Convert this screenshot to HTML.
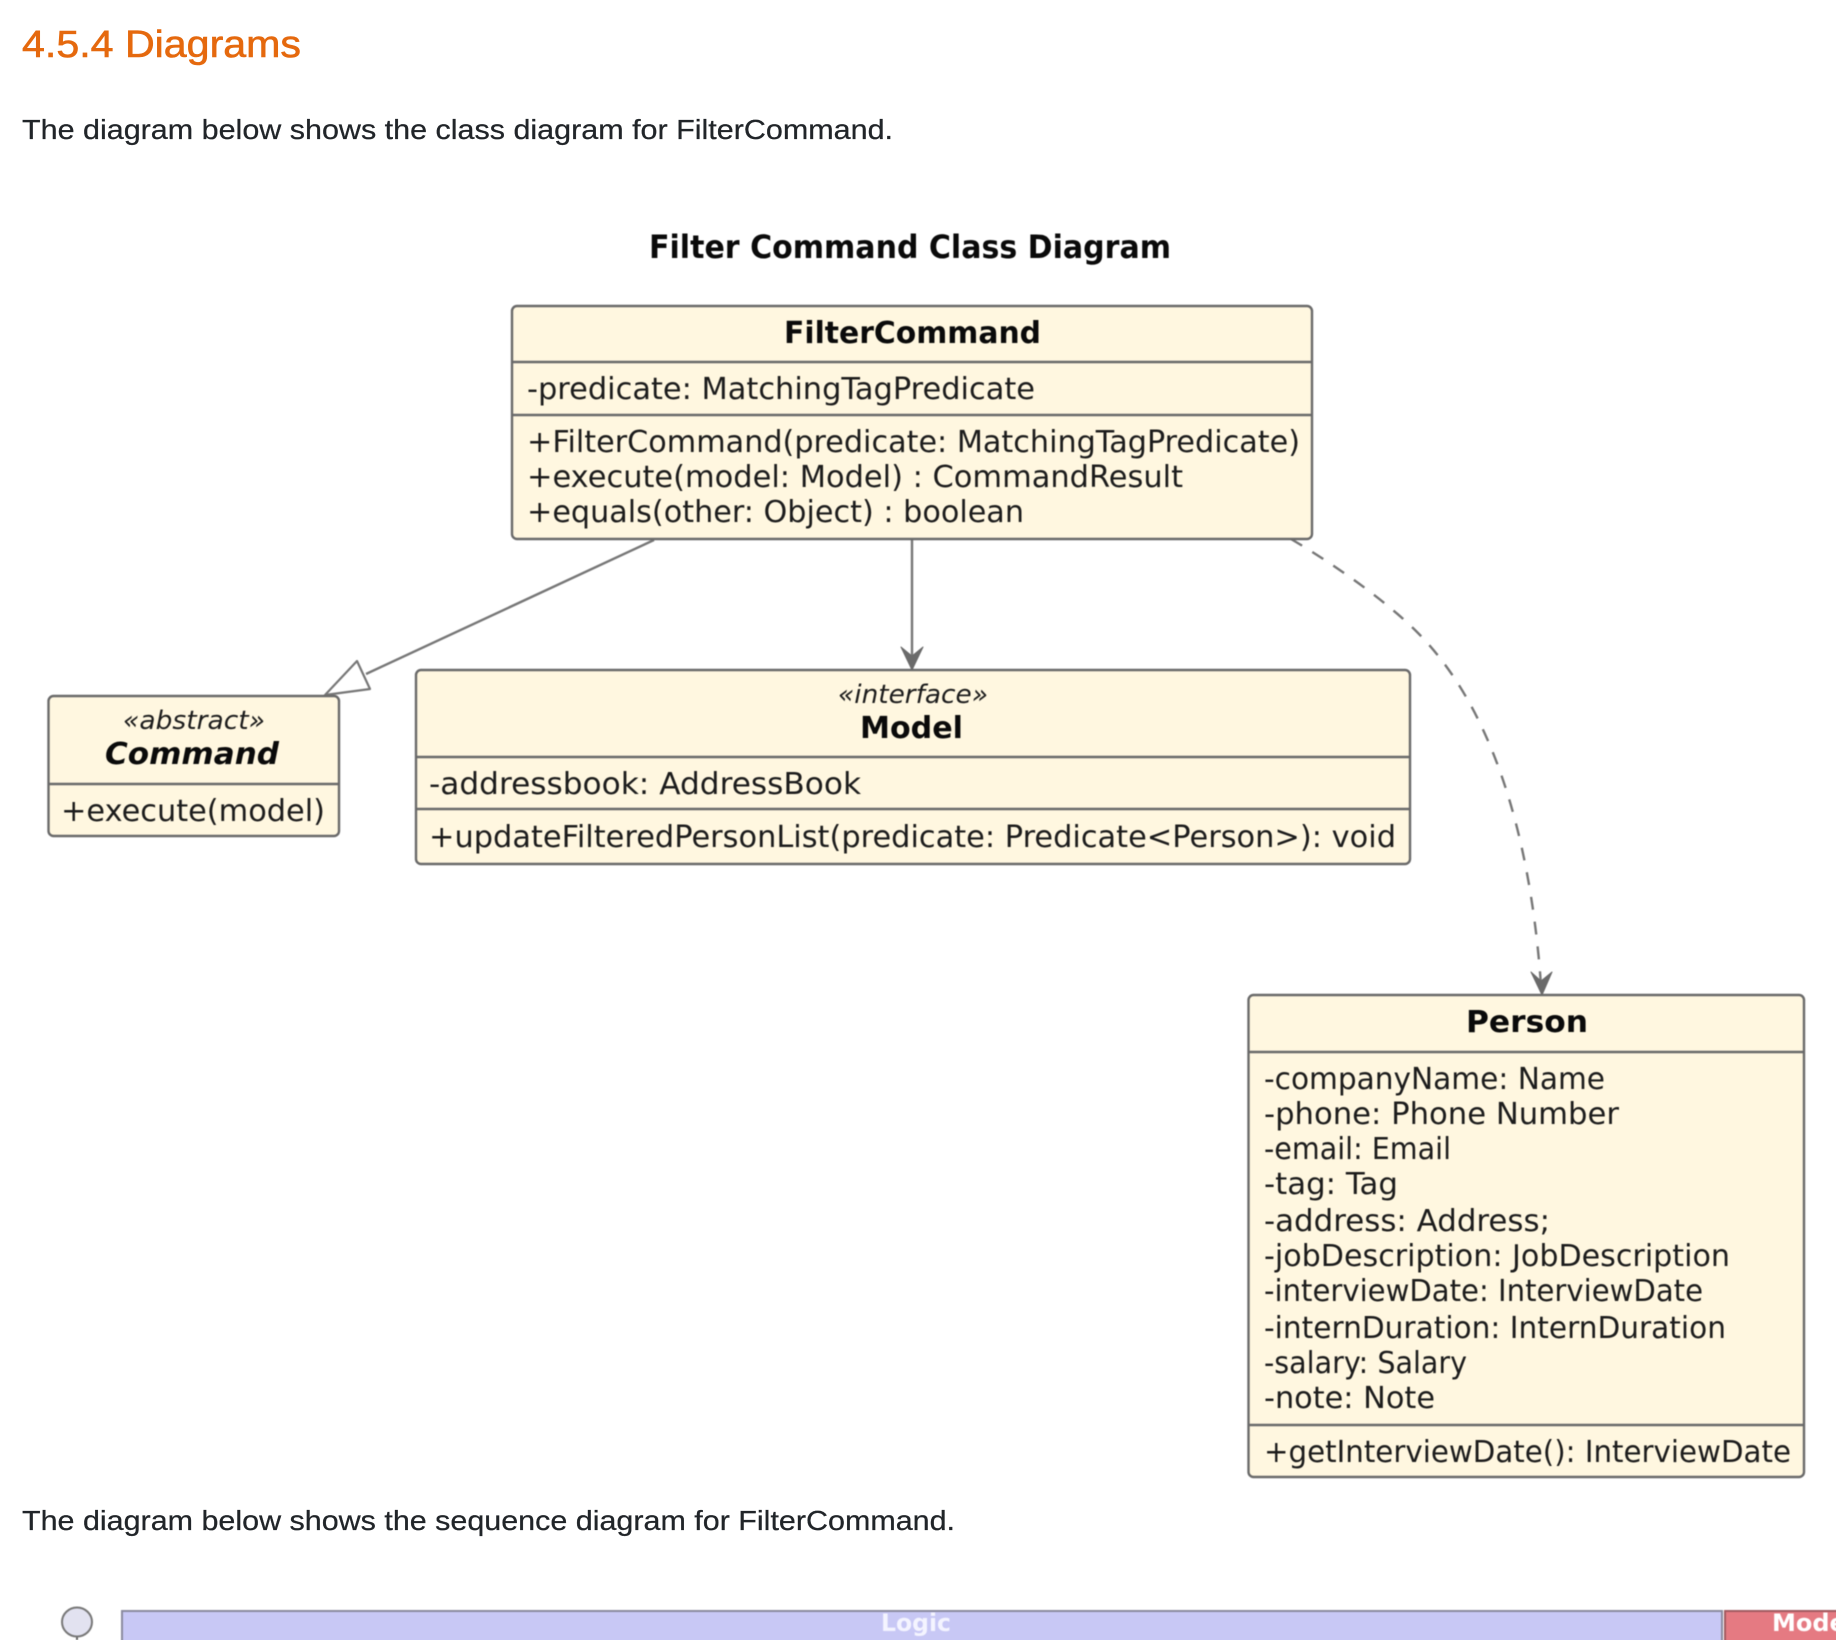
<!DOCTYPE html>
<html>
<head>
<meta charset="utf-8">
<title>4.5.4 Diagrams</title>
<style>
html,body{margin:0;padding:0;background:#fff;width:1836px;height:1640px;overflow:hidden}
svg{display:block}
text{font-family:"DejaVu Sans",sans-serif;fill:#1c1c1c;font-size:30px}
.b{font-weight:bold;fill:#0a0a0a}
.i{font-style:italic}
.page{font-family:"Liberation Sans",sans-serif;font-size:28px;fill:#212529}
.box{fill:#FFF7E0;stroke:#6a6a6a;stroke-width:2.4}
.d{stroke:#6a6a6a;stroke-width:2.4}
.e{stroke:#777;stroke-width:2.4;fill:none}
.soft{filter:blur(.45px)}
</style>
</head>
<body>
<svg width="1836" height="1640" viewBox="0 0 1836 1640" xmlns="http://www.w3.org/2000/svg">
<text x="22" y="57" class="page" style="font-size:38px;fill:#E5690E;stroke:#E5690E;stroke-width:.6" textLength="279" lengthAdjust="spacingAndGlyphs">4.5.4 Diagrams</text>
<text x="22" y="139" class="page" style="stroke:#212529;stroke-width:.25" textLength="871" lengthAdjust="spacingAndGlyphs">The diagram below shows the class diagram for FilterCommand.</text>
<g class="soft">
<text x="649" y="258" class="b" style="font-size:32px" textLength="522" lengthAdjust="spacingAndGlyphs">Filter Command Class Diagram</text>

<!-- connectors -->
<path class="e" d="M654,540 L366,674"/>
<path d="M325,695 L357,661 L370,689 Z" fill="#fff" stroke="#777" stroke-width="2.2" stroke-linejoin="round"/>
<path class="e" d="M912,539 L912,660"/>
<path d="M912,670 L901,647 L912,656 L923,647 Z" fill="#6a6a6a" stroke="#6a6a6a" stroke-width="1" stroke-linejoin="round"/>
<path class="e" stroke-dasharray="13,12" d="M1291,539 C1335,565 1385,600 1417,632 C1490,705 1530,830 1541,985"/>
<path d="M1542,995 L1531,972 L1541,981 L1552,972 Z" fill="#6a6a6a" stroke="#6a6a6a" stroke-width="1" stroke-linejoin="round"/>

<!-- FilterCommand -->
<rect class="box" x="512" y="306" width="800" height="233" rx="5"/>
<line class="d" x1="512" y1="362" x2="1312" y2="362"/>
<line class="d" x1="512" y1="415" x2="1312" y2="415"/>
<text x="784" y="343" class="b" textLength="257" lengthAdjust="spacingAndGlyphs">FilterCommand</text>
<text x="527" y="399" textLength="508" lengthAdjust="spacingAndGlyphs">-predicate: MatchingTagPredicate</text>
<text x="527" y="452" textLength="773" lengthAdjust="spacingAndGlyphs">+FilterCommand(predicate: MatchingTagPredicate)</text>
<text x="527" y="487" textLength="656" lengthAdjust="spacingAndGlyphs">+execute(model: Model) : CommandResult</text>
<text x="527" y="522" textLength="497" lengthAdjust="spacingAndGlyphs">+equals(other: Object) : boolean</text>

<!-- Command -->
<rect class="box" x="48.500" y="696" width="290.500" height="140" rx="5"/>
<line class="d" x1="49" y1="784" x2="339" y2="784"/>
<text x="123" y="729" class="i" style="font-size:26px" textLength="142" lengthAdjust="spacingAndGlyphs">«abstract»</text>
<text x="105" y="764" class="b i" textLength="174" lengthAdjust="spacingAndGlyphs">Command</text>
<text x="61" y="821" textLength="264" lengthAdjust="spacingAndGlyphs">+execute(model)</text>

<!-- Model -->
<rect class="box" x="416" y="670" width="994" height="194" rx="5"/>
<line class="d" x1="416" y1="757" x2="1410" y2="757"/>
<line class="d" x1="416" y1="809" x2="1410" y2="809"/>
<text x="838" y="703" class="i" style="font-size:26px" textLength="150" lengthAdjust="spacingAndGlyphs">«interface»</text>
<text x="860" y="738" class="b" textLength="103" lengthAdjust="spacingAndGlyphs">Model</text>
<text x="429" y="794" textLength="432" lengthAdjust="spacingAndGlyphs">-addressbook: AddressBook</text>
<text x="429" y="847" textLength="967" lengthAdjust="spacingAndGlyphs">+updateFilteredPersonList(predicate: Predicate&lt;Person&gt;): void</text>

<!-- Person -->
<rect class="box" x="1248.500" y="995" width="555.500" height="482" rx="5"/>
<line class="d" x1="1249" y1="1052" x2="1804" y2="1052"/>
<line class="d" x1="1249" y1="1425" x2="1804" y2="1425"/>
<text x="1466" y="1032" class="b" textLength="122" lengthAdjust="spacingAndGlyphs">Person</text>
<text x="1264" y="1089" textLength="341" lengthAdjust="spacingAndGlyphs">-companyName: Name</text>
<text x="1264" y="1124" textLength="355" lengthAdjust="spacingAndGlyphs">-phone: Phone Number</text>
<text x="1264" y="1159" textLength="187" lengthAdjust="spacingAndGlyphs">-email: Email</text>
<text x="1264" y="1194" textLength="134" lengthAdjust="spacingAndGlyphs">-tag: Tag</text>
<text x="1264" y="1231" textLength="286" lengthAdjust="spacingAndGlyphs">-address: Address;</text>
<text x="1264" y="1266" textLength="466" lengthAdjust="spacingAndGlyphs">-jobDescription: JobDescription</text>
<text x="1264" y="1301" textLength="439" lengthAdjust="spacingAndGlyphs">-interviewDate: InterviewDate</text>
<text x="1264" y="1338" textLength="462" lengthAdjust="spacingAndGlyphs">-internDuration: InternDuration</text>
<text x="1264" y="1373" textLength="203" lengthAdjust="spacingAndGlyphs">-salary: Salary</text>
<text x="1264" y="1408" textLength="171" lengthAdjust="spacingAndGlyphs">-note: Note</text>
<text x="1264" y="1462" textLength="527" lengthAdjust="spacingAndGlyphs">+getInterviewDate(): InterviewDate</text>
</g>

<text x="22" y="1530" class="page" style="stroke:#212529;stroke-width:.25" textLength="933" lengthAdjust="spacingAndGlyphs">The diagram below shows the sequence diagram for FilterCommand.</text>

<!-- sequence diagram top -->
<g class="soft">
<line x1="77" y1="1636" x2="77" y2="1640" stroke="#666" stroke-width="2"/>
<ellipse cx="77" cy="1622" rx="15" ry="14.5" fill="#E2E2F0" stroke="#777" stroke-width="2"/>
<rect x="122" y="1611" width="1600" height="40" fill="#C8C8F5" stroke="#8a8a9e" stroke-width="2"/>
<rect x="1725" y="1611" width="130" height="40" fill="#E57A82" stroke="#a05a60" stroke-width="2"/>
<text x="881" y="1631" class="b" style="font-size:24px;fill:#f4f4ff" textLength="70" lengthAdjust="spacingAndGlyphs">Logic</text>
<text x="1772" y="1631" class="b" style="font-size:24px;fill:#fff">Model</text>
</g>
</svg>
</body>
</html>
